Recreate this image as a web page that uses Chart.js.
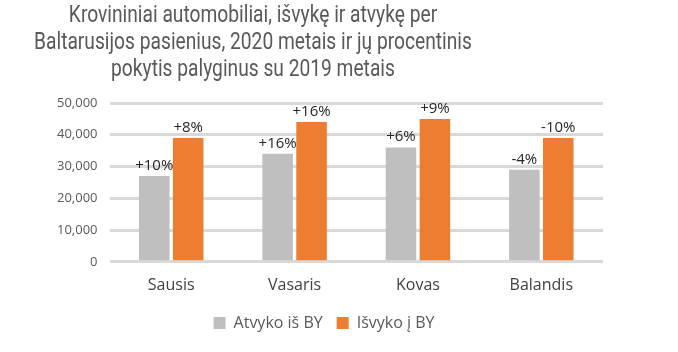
<!DOCTYPE html>
<html>
<head>
<meta charset="utf-8">
<script src="https://cdn.jsdelivr.net/npm/chart.js@4/dist/chart.umd.min.js"></script>
<style>
  html, body { margin: 0; padding: 0; background: #fff; }
  #wrap { width: 678px; height: 352px; }
</style>
</head>
<body>
<div id="wrap"><canvas id="borderChart"></canvas></div>
<script>
const months = ["Sausis", "Vasaris", "Kovas", "Balandis"];
const arrivals = [27000, 34000, 36000, 29000];
const departures = [39000, 44000, 45000, 39000];
const arrivalsChange = ["+10%", "+16%", "+6%", "-4%"];
const departuresChange = ["+8%", "+16%", "+9%", "-10%"];
const titleLines = [
    "Krovininiai automobiliai, išvykę ir atvykę per",
    "Baltarusijos pasienius, 2020 metais ir jų procentinis",
    "pokytis palyginus su 2019 metais"
];

// title sits left of centre in the original, so it is drawn by hand
const titlePlugin = {
    id: 'leftTitle',
    afterDraw(chart) {
        const ctx = chart.ctx;
        ctx.save();
        ctx.font = '24px Roboto';
        ctx.fillStyle = '#595959';
        ctx.textAlign = 'center';
        ctx.textBaseline = 'middle';
        // the original face is narrower than Roboto
        ctx.translate(253, 0);
        ctx.scale(0.8, 1);
        titleLines.forEach((line, i) => {
            ctx.fillText(line, 0, 16 + i * 27);
        });
        ctx.restore();
    }
};

// percentage change above each bar
const changeLabels = {
    id: 'changeLabels',
    afterDatasetsDraw(chart) {
        const ctx = chart.ctx;
        ctx.save();
        ctx.font = '15px "Open Sans"';
        ctx.fillStyle = '#262626';
        ctx.textAlign = 'center';
        ctx.textBaseline = 'alphabetic';
        chart.data.datasets.forEach((ds, di) => {
            chart.getDatasetMeta(di).data.forEach((bar, i) => {
                ctx.fillText(ds.changes[i], bar.x, bar.y - 6);
            });
        });
        ctx.restore();
    }
};

const ctxBorder = document.getElementById('borderChart').getContext('2d');
const borderChart = new Chart(ctxBorder, {
    type: 'bar',
    data: {
        labels: months,
        datasets: [
            {
                label: "Atvyko iš BY",
                data: arrivals,
                changes: arrivalsChange,
                backgroundColor: '#bfbfbf',
                categoryPercentage: 0.55,
                barPercentage: 0.9
            },
            {
                label: "Išvyko į BY",
                data: departures,
                changes: departuresChange,
                backgroundColor: '#ed7d31',
                categoryPercentage: 0.55,
                barPercentage: 0.9
            }
        ]
    },
    options: {
        responsive: true,
        maintainAspectRatio: false,
        animation: false,
        layout: {
            padding: { top: 103, left: 45, right: 75, bottom: 11 }
        },
        scales: {
            x: {
                grid: { display: false },
                border: { display: false },
                ticks: {
                    color: '#404040',
                    font: { family: 'Open Sans', size: 16 },
                    padding: 6
                }
            },
            y: {
                min: 0,
                max: 50000,
                grid: { color: '#d9d9d9', lineWidth: 3, drawTicks: false },
                border: { display: false },
                ticks: {
                    stepSize: 10000,
                    color: '#595959',
                    font: { family: 'Open Sans', size: 13 },
                    padding: 12,
                    callback: v => v.toLocaleString('en-US')
                }
            }
        },
        plugins: {
            legend: {
                position: 'bottom',
                labels: {
                    boxWidth: 12,
                    boxHeight: 12,
                    padding: 14,
                    color: '#595959',
                    font: { family: 'Open Sans', size: 16 }
                }
            },
            tooltip: { enabled: false }
        }
    },
    plugins: [titlePlugin, changeLabels]
});
</script>
</body>
</html>
